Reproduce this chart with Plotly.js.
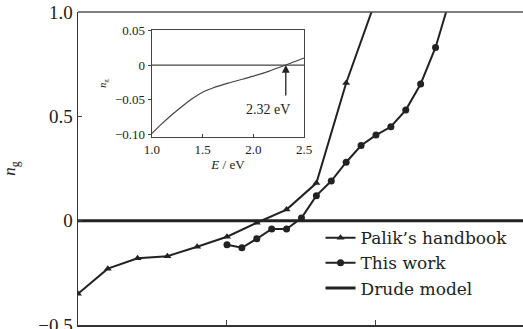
<!DOCTYPE html>
<html><head><meta charset="utf-8">
<script src="https://cdn.plot.ly/plotly-3.0.1.min.js"></script>
<style>html,body{margin:0;padding:0;background:#fff}#chart{width:523px;height:329px}</style>
</head><body><div id="chart"></div>
<script>
// Main plot data (photon energy E / eV vs n_g)
const palikE = [1.0, 1.2, 1.4, 1.6, 1.8, 2.0, 2.2, 2.4, 2.6, 2.8, 3.0];
const palikN = [-0.35, -0.23, -0.18, -0.17, -0.125, -0.077, -0.01, 0.053, 0.18, 0.66, 1.06];
const workE = [2.0, 2.1, 2.2, 2.3, 2.4, 2.5, 2.6, 2.7, 2.8, 2.9, 3.0, 3.1, 3.2, 3.3, 3.4, 3.5];
const workN = [-0.115, -0.13, -0.087, -0.04, -0.04, 0.013, 0.12, 0.19, 0.28, 0.36, 0.41, 0.45, 0.53, 0.655, 0.83, 1.07];
const drudeE = [1.0, 4.0];
const drudeN = [0, 0];
// Inset data
const insetE = [1.0, 1.1, 1.2, 1.3, 1.4, 1.5, 1.6, 1.75, 1.9, 2.0, 2.15, 2.32, 2.5];
const insetN = [-0.098, -0.084, -0.071, -0.059, -0.048, -0.039, -0.033, -0.026, -0.020, -0.016, -0.009, 0.0, 0.01];
const insetZeroE = [1.0, 2.5];
const insetZeroN = [0, 0];
const crossE = 2.32;

const ink = '#222';
const serif = 'Liberation Serif, Times New Roman, serif';
const wideSerif = 'DejaVu Serif, serif';

const traces = [
  {x: palikE, y: palikN, mode: 'lines+markers', name: 'Palik\u2019s handbook',
   line: {color: ink, width: 2}, marker: {symbol: 'triangle-up', size: 7, color: ink}},
  {x: workE, y: workN, mode: 'lines+markers', name: 'This work',
   line: {color: ink, width: 2}, marker: {symbol: 'circle', size: 7, color: ink}},
  {x: drudeE, y: drudeN, mode: 'lines', name: 'Drude model',
   line: {color: ink, width: 3}},
  {x: insetZeroE, y: insetZeroN, mode: 'lines', xaxis: 'x2', yaxis: 'y2', showlegend: false,
   line: {color: '#444', width: 1.2}},
  {x: insetE, y: insetN, mode: 'lines', xaxis: 'x2', yaxis: 'y2', showlegend: false,
   line: {color: '#444', width: 1.2, shape: 'spline', smoothing: 0.6}}
];

const layout = {
  width: 523, height: 329,
  margin: {l: 78, r: 0, t: 12, b: 4},
  paper_bgcolor: '#fff', plot_bgcolor: '#fff',
  font: {family: serif, color: ink},
  showlegend: true,
  legend: {x: 0.545, y: 0.335, xanchor: 'left', yanchor: 'top', bgcolor: 'rgba(0,0,0,0)',
           font: {family: wideSerif, size: 17, color: ink}, tracegroupgap: 0, itemwidth: 30},
  xaxis: {range: [1.0, 3.987], showgrid: false, zeroline: false, showline: true, linecolor: '#333', linewidth: 1.5,
          mirror: false, ticks: 'inside', ticklen: 5, tickvals: [2, 3], showticklabels: false},
  yaxis: {range: [-0.5, 1.0], showgrid: false, zeroline: false, showline: true, linecolor: '#333', linewidth: 1.5,
          ticks: 'inside', ticklen: 4, tickvals: [-0.5, 0, 0.5, 1.0], ticktext: ['\u22120.5', '0', '0.5', '1.0'],
          ticklabeloverflow: 'allow',
          tickfont: {family: serif, size: 19, color: ink},
          title: {text: '<i>n</i><sub>g</sub>', font: {family: serif, size: 17, color: ink}, standoff: 22}},
  xaxis2: {domain: [0.166, 0.508], anchor: 'y2', range: [1.0, 2.5], showgrid: false, zeroline: false,
           showline: true, mirror: true, linecolor: '#444', linewidth: 1.2, ticks: 'inside', ticklen: 3,
           tickvals: [1.0, 1.5, 2.0, 2.5], ticktext: ['1.0', '1.5', '2.0', '2.5'],
           tickfont: {family: serif, size: 13, color: ink},
           title: {text: '<i>E</i> / eV', font: {family: serif, size: 13, color: ink}, standoff: 3}},
  yaxis2: {domain: [0.601, 0.942], anchor: 'x2', range: [-0.103, 0.05], showgrid: false, zeroline: false,
           showline: true, mirror: true, linecolor: '#444', linewidth: 1.2, ticks: 'outside', ticklen: 3,
           tickvals: [-0.10, -0.05, 0, 0.05], ticktext: ['\u22120.10', '\u22120.05', '0', '0.05'],
           tickfont: {family: serif, size: 13, color: ink},
           title: {text: '<i>n</i><sub>g</sub>', font: {family: serif, size: 10, color: ink}, standoff: 6}},
  annotations: [
    {x: crossE, y: 0, xref: 'x2', yref: 'y2', ax: crossE, ay: -0.046, axref: 'x2', ayref: 'y2',
     showarrow: true, arrowhead: 2, arrowsize: 1.2, arrowwidth: 1.3, arrowcolor: ink, text: ''},
    {x: 2.14, y: -0.064, xref: 'x2', yref: 'y2', xanchor: 'center', yanchor: 'middle', showarrow: false,
     text: '2.32 eV', font: {family: serif, size: 14, color: ink}}
  ],
  shapes: [
    {type: 'line', xref: 'paper', yref: 'paper', x0: 0, x1: 1, y0: 1, y1: 1, line: {color: '#555', width: 1.3}}
  ]
};

Plotly.newPlot('chart', traces, layout, {displayModeBar: false, staticPlot: true});
</script></body></html>
